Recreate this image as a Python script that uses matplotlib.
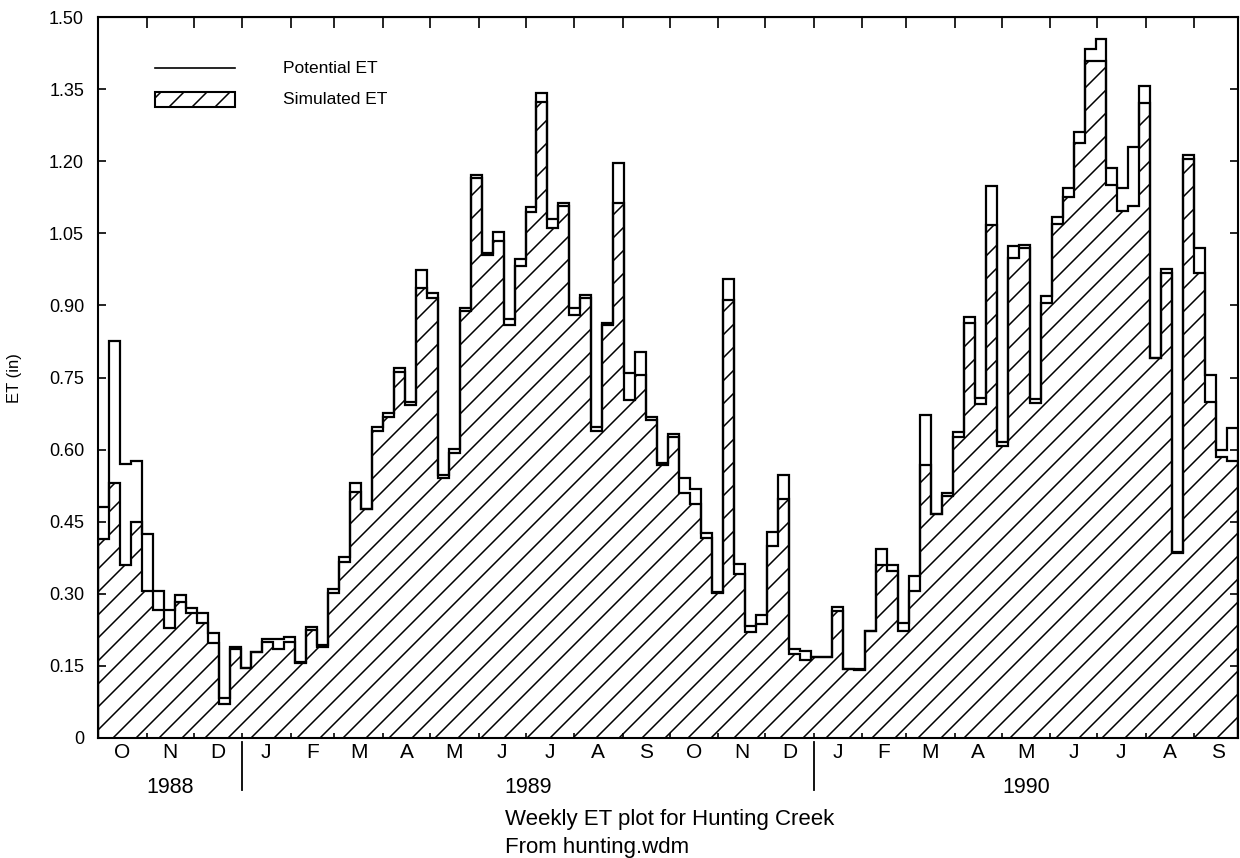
import numpy as np
import matplotlib
matplotlib.use("Agg")
import matplotlib.pyplot as plt
import matplotlib.transforms as mtransforms
from matplotlib.collections import LineCollection
from matplotlib.patches import Rectangle

# weekly values, first week starts 1988-10-01
potential_et = [0.48, 0.825, 0.57, 0.577, 0.425, 0.306, 0.267, 0.298, 0.271, 0.26,
                0.219, 0.083, 0.19, 0.146, 0.179, 0.206, 0.207, 0.21, 0.158, 0.231,
                0.194, 0.31, 0.377, 0.531, 0.477, 0.646, 0.677, 0.769, 0.70, 0.973,
                0.926, 0.548, 0.602, 0.895, 1.171, 1.01, 1.052, 0.871, 0.996, 1.104,
                1.341, 1.079, 1.112, 0.894, 0.921, 0.646, 0.864, 1.196, 0.76, 0.804,
                0.667, 0.572, 0.632, 0.54, 0.518, 0.427, 0.303, 0.955, 0.363, 0.232,
                0.256, 0.428, 0.548, 0.185, 0.182, 0.168, 0.168, 0.272, 0.143, 0.143,
                0.223, 0.394, 0.36, 0.239, 0.336, 0.673, 0.467, 0.51, 0.637, 0.875,
                0.708, 1.148, 0.615, 1.023, 1.025, 0.705, 0.92, 1.083, 1.145, 1.26,
                1.433, 1.455, 1.185, 1.145, 1.23, 1.357, 0.79, 0.975, 0.388, 1.213,
                1.02, 0.755, 0.60, 0.645]
simulated_et = [0.415, 0.53, 0.36, 0.45, 0.305, 0.267, 0.229, 0.283, 0.26, 0.24,
                0.198, 0.071, 0.185, 0.146, 0.178, 0.20, 0.185, 0.20, 0.155, 0.225,
                0.19, 0.302, 0.366, 0.512, 0.477, 0.638, 0.667, 0.762, 0.693, 0.937,
                0.916, 0.54, 0.593, 0.888, 1.165, 1.005, 1.033, 0.859, 0.982, 1.094,
                1.323, 1.062, 1.107, 0.88, 0.916, 0.638, 0.86, 1.112, 0.704, 0.756,
                0.662, 0.569, 0.626, 0.51, 0.487, 0.417, 0.301, 0.912, 0.342, 0.221,
                0.238, 0.40, 0.498, 0.175, 0.162, 0.168, 0.168, 0.264, 0.143, 0.142,
                0.223, 0.36, 0.348, 0.223, 0.305, 0.569, 0.467, 0.503, 0.627, 0.864,
                0.694, 1.067, 0.608, 0.998, 1.02, 0.697, 0.905, 1.07, 1.125, 1.237,
                1.409, 1.408, 1.15, 1.097, 1.107, 1.322, 0.79, 0.967, 0.385, 1.205,
                0.967, 0.70, 0.585, 0.577]

start_date = np.datetime64("1988-10-01")
month_letters = ["O", "N", "D", "J", "F", "M", "A", "M", "J", "J", "A", "S",
                 "O", "N", "D", "J", "F", "M", "A", "M", "J", "J", "A", "S"]
year_labels = ["1988", "1989", "1990"]
y_ticks = [0, 0.15, 0.30, 0.45, 0.60, 0.75, 0.90, 1.05, 1.20, 1.35, 1.50]

plt.rcParams["font.family"] = ["Liberation Sans", "DejaVu Sans"]

W, H = 1240, 858
fig = plt.figure(figsize=(W / 100, H / 100), dpi=100)
ax = fig.add_axes([98 / W, 1 - 738 / H, 1140 / W, 721 / H])

week_edges = np.arange(len(potential_et) + 1) * 7
months = np.arange("1988-10", "1990-11", dtype="datetime64[M]")
month_starts = (months.astype("datetime64[D]") - start_date).astype(int)
month_mid = (month_starts[:-1] + month_starts[1:]) / 2


def hatch(ax, clip, spacing=23, lw=1.1, z=1.5):
    w, h = ax.bbox.width, ax.bbox.height
    offs = np.arange(-h, w + spacing, spacing)
    segs = [[(c / w, 0), ((c + h) / w, 1)] for c in offs]
    lc = LineCollection(segs, colors="black", linewidths=lw,
                        transform=ax.transAxes, zorder=z)
    ax.add_collection(lc, autolim=False)
    lc.set_clip_path(clip)


sim_fill = ax.stairs(simulated_et, week_edges, fill=True, facecolor="white",
                     edgecolor="none", linewidth=0, zorder=1)
hatch(ax, sim_fill)
ax.stairs(simulated_et, week_edges, color="black", linewidth=1.6, zorder=2)
ax.stairs(potential_et, week_edges, color="black", linewidth=1.6, zorder=3)

ax.set_xlim(0, week_edges[-1])
ax.set_ylim(0, 1.5)
for s in ax.spines.values():
    s.set_linewidth(1.5)

ax.set_yticks(y_ticks)
ax.set_yticklabels(["0" if v == 0 else f"{v:.2f}" for v in y_ticks])
ax.tick_params(axis="y", direction="in", length=6, width=1.2, right=True,
               labelsize=13, pad=10)
ax.set_xticks(month_starts[1:-1])
ax.set_xticklabels([])
ax.tick_params(axis="x", direction="in", length=3.5, width=1.2)
top = ax.secondary_xaxis("top")
top.set_xticks(month_starts[1:-1])
top.set_xticklabels([])
top.tick_params(direction="in", length=8, width=1.2)

trans = mtransforms.blended_transform_factory(ax.transData, ax.transAxes)
for xm, lab in zip(month_mid, month_letters):
    ax.text(xm, -0.0205, lab, transform=trans, ha="center", va="center",
            fontsize=15, clip_on=False)

jan = month_starts[(months.astype(int) % 12) == 0]
bounds = np.concatenate([[0], jan, [week_edges[-1]]])
for i, lab in enumerate(year_labels):
    ax.text((bounds[i] + bounds[i + 1]) / 2, -0.069, lab, transform=trans,
            ha="center", va="center", fontsize=15.5, clip_on=False)
for xj in jan:
    ax.plot([xj, xj], [-0.006, -0.072], color="black", lw=1.3,
            transform=trans, clip_on=False)

# legend drawn by hand
ax.plot([0.05, 0.12], [0.929, 0.929], color="black", lw=1.2,
        transform=ax.transAxes)
box = Rectangle((0.05, 0.875), 0.07, 0.021, transform=ax.transAxes,
                facecolor="white", edgecolor="black", lw=1.5, zorder=4)
ax.add_patch(box)
hatch(ax, box, z=5)
ax.text(0.1623, 0.929, "Potential ET", transform=ax.transAxes, va="center",
        fontsize=12.5)
ax.text(0.1623, 0.886, "Simulated ET", transform=ax.transAxes, va="center",
        fontsize=12.5)

fig.text(15 / W, 1 - 378 / H, "ET (in)", rotation=90, ha="center",
         va="center", fontsize=12)
fig.text(505 / W, 1 - 820 / H, "Weekly ET plot for Hunting Creek",
         va="center", fontsize=16)
fig.text(505 / W, 1 - 847 / H, "From hunting.wdm", va="center", fontsize=16)

fig.savefig("out.png", dpi=100)
